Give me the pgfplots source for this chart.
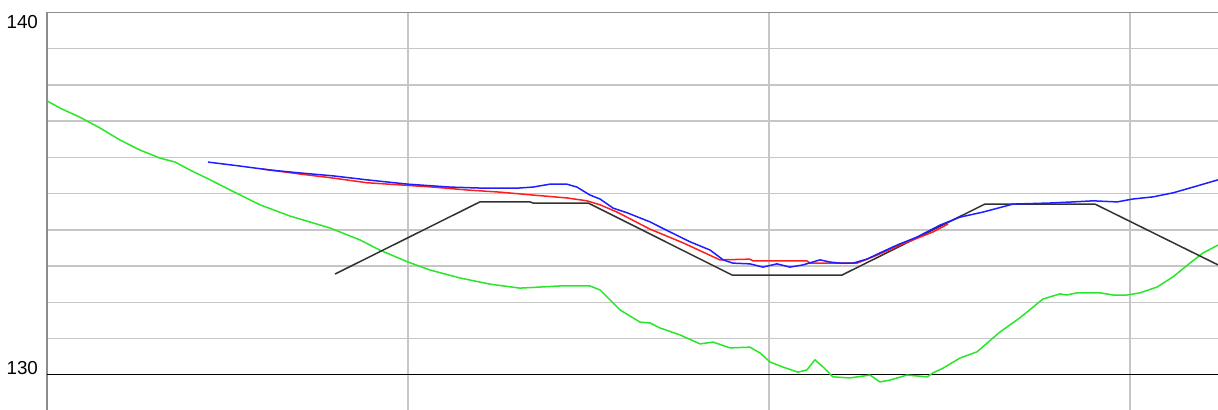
\documentclass[border=0pt]{standalone}
\usepackage{pgfplots}
\pgfplotsset{compat=1.18}
\usepackage{fontspec}
\setmainfont{Liberation Sans}

\definecolor{gridgray}{RGB}{198,198,198}
\definecolor{framegray}{RGB}{140,140,140}
\definecolor{baseline}{RGB}{125,125,125}
\definecolor{cgreen}{RGB}{40,230,40}
\definecolor{cblue}{RGB}{30,30,255}
\definecolor{cred}{RGB}{255,30,30}
\definecolor{cdark}{RGB}{50,50,50}

\begin{document}
\begin{tikzpicture}
\path[use as bounding box] (0,0) rectangle (609pt,-205pt);
\begin{axis}[
  at={(23.5pt,-6.25pt)}, anchor=north west,
  scale only axis,
  width=585.5pt, height=198.75pt,
  xmin=0, xmax=3.2438,
  ymin=129.025, ymax=140,
  axis line style={draw=none},
  xtick={0,1,2,3}, ytick={130,...,140},
  xticklabels={}, yticklabels={},
  major tick length=0pt,
  grid=major,
  major grid style={gridgray, line width=0.7pt},
  clip mode=individual,
  every axis plot/.append style={line width=0.75pt, line join=round},
]
% frame: left edge, top edge and the darker 130 line
\draw[framegray, line width=0.7pt] (rel axis cs:0,0) -- (rel axis cs:0,1) -- (rel axis cs:1,1);
\draw[baseline, line width=0.7pt] (axis cs:0,130) -- (axis cs:3.2438,130);
\node[anchor=east, font=\fontsize{9.4pt}{10pt}\selectfont, inner sep=0pt] at (axis cs:-0.024,139.74) {140};
\node[anchor=east, font=\fontsize{9.4pt}{10pt}\selectfont, inner sep=0pt] at (axis cs:-0.024,130.18) {130};

% green series
\addplot[cgreen] coordinates {
(0,137.56) (0.036,137.36) (0.091,137.11) (0.147,136.81) (0.202,136.48) (0.258,136.20)
(0.313,135.98) (0.355,135.87) (0.396,135.65) (0.452,135.38) (0.507,135.10) (0.590,134.69)
(0.673,134.38) (0.784,134.05) (0.867,133.72) (0.922,133.44) (1.000,133.11) (1.061,132.89)
(1.144,132.67) (1.227,132.50) (1.310,132.39) (1.366,132.42) (1.421,132.45) (1.504,132.45)
(1.532,132.34) (1.560,132.06) (1.587,131.79) (1.643,131.45) (1.670,131.43) (1.698,131.29)
(1.753,131.10) (1.809,130.85) (1.845,130.90) (1.892,130.74) (1.947,130.76) (1.975,130.60)
(2.003,130.35) (2.039,130.21) (2.080,130.07) (2.105,130.13) (2.127,130.41) (2.150,130.21)
(2.177,129.94) (2.224,129.91) (2.280,129.99) (2.307,129.80) (2.335,129.85) (2.382,129.99)
(2.438,129.94) (2.454,130.05) (2.482,130.18) (2.529,130.46) (2.576,130.63) (2.604,130.87)
(2.640,131.18) (2.695,131.57) (2.759,132.09) (2.806,132.23) (2.825,132.20) (2.853,132.26)
(2.917,132.26) (2.953,132.20) (2.992,132.20) (3.028,132.26) (3.075,132.42) (3.119,132.70)
(3.166,133.08) (3.202,133.36) (3.244,133.58)
};

% dark trapezoid series
\addplot[cdark] coordinates {
(0.798,132.78) (1.199,134.77) (1.338,134.77) (1.346,134.74) (1.499,134.74)
(1.898,132.75) (2.202,132.75) (2.598,134.71) (2.903,134.71) (3.244,133.03)
};

% red series
\addplot[cred] coordinates {
(0.596,135.68) (0.701,135.54) (0.792,135.43) (0.886,135.30) (0.978,135.24) (1.069,135.18)
(1.163,135.10) (1.255,135.04) (1.346,134.96) (1.440,134.88) (1.496,134.80) (1.532,134.69)
(1.579,134.49) (1.670,134.02) (1.762,133.64) (1.864,133.17) (1.947,133.19) (1.956,133.14)
(2.105,133.14) (2.114,133.08) (2.244,133.08) (2.299,133.30) (2.363,133.58) (2.454,133.94)
(2.496,134.16)
};

% blue series
\addplot[cblue] coordinates {
(0.446,135.87) (0.535,135.76) (0.618,135.65) (0.701,135.57) (0.792,135.49) (0.886,135.38)
(1.000,135.26) (1.116,135.18) (1.208,135.15) (1.302,135.15) (1.346,135.18) (1.393,135.26)
(1.440,135.26) (1.468,135.18) (1.504,134.96) (1.532,134.85) (1.568,134.60) (1.607,134.47)
(1.670,134.22) (1.726,133.94) (1.781,133.67) (1.837,133.44) (1.873,133.17) (1.900,133.08)
(1.947,133.06) (1.983,132.97) (2.022,133.06) (2.058,132.97) (2.094,133.03) (2.141,133.17)
(2.169,133.11) (2.197,133.08) (2.233,133.08) (2.271,133.19) (2.307,133.36) (2.355,133.58)
(2.410,133.80) (2.474,134.13) (2.529,134.35) (2.593,134.49) (2.676,134.71) (2.778,134.74)
(2.842,134.77) (2.898,134.80) (2.964,134.77) (3.008,134.85) (3.064,134.91) (3.119,135.02)
(3.175,135.18) (3.244,135.38)
};
\end{axis}
\end{tikzpicture}
\end{document}
